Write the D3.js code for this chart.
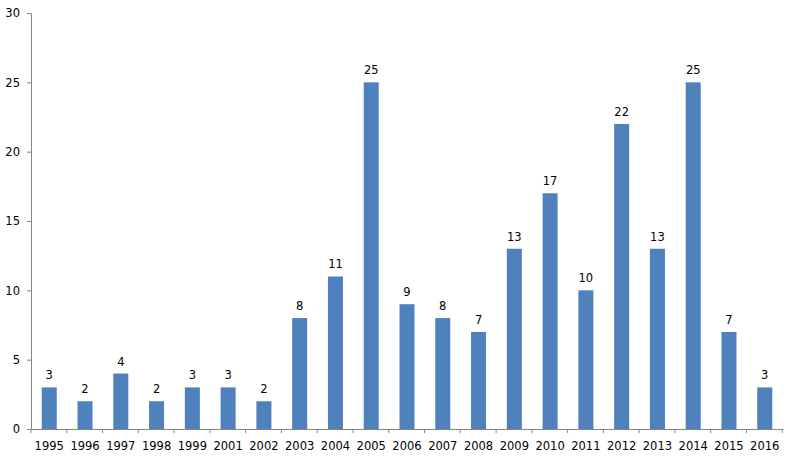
<!DOCTYPE html>
<html><head><meta charset="utf-8">
<script src="https://cdn.jsdelivr.net/npm/d3@7"></script>
<style>body{margin:0;background:#fff}svg{display:block}</style>
</head><body>
<script>
const categories = ["1995","1996","1997","1998","1999","2001","2002","2003","2004","2005","2006","2007","2008","2009","2010","2011","2012","2013","2014","2015","2016"];
const values = [3,2,4,2,3,3,2,8,11,25,9,8,7,13,17,10,22,13,25,7,3];
const yTicks = [0,5,10,15,20,25,30];

const W = 793, H = 462;
const m = {left: 31, right: 10, top: 13, bottom: 33};
const svg = d3.select("body").append("svg").attr("width", W).attr("height", H);
const x = d3.scaleBand().domain(categories).range([m.left, 783]).paddingInner(0.58).paddingOuter(0.3);
const y = d3.scaleLinear().domain([0, 30]).range([429, m.top]);
const font = "DejaVu Sans, Verdana, sans-serif";
const fs = 11.5;

const ya = svg.append("g").attr("transform", `translate(${m.left},0)`)
  .call(d3.axisLeft(y).tickValues(yTicks).tickSize(4).tickPadding(7));
ya.select(".domain").attr("stroke", "#868686");
ya.selectAll(".tick line").attr("stroke", "#868686");
ya.selectAll("text").attr("font-family", font).attr("font-size", fs).attr("fill", "#000");

svg.selectAll("rect.bar").data(values).join("rect").attr("class","bar")
  .attr("x", (d,i) => x(categories[i])).attr("width", x.bandwidth())
  .attr("y", d => y(d)).attr("height", d => y(0) - y(d)).attr("fill", "#4F81BD");

svg.selectAll("text.val").data(values).join("text").attr("class","val")
  .attr("x", (d,i) => x(categories[i]) + x.bandwidth()/2).attr("y", d => y(d) - 8)
  .attr("text-anchor","middle").attr("font-family", font).attr("font-size", fs).attr("fill","#000")
  .text(d => d);

const xa = svg.append("g").attr("transform", `translate(0,${y(0)})`)
  .call(d3.axisBottom(x).tickSize(0).tickPadding(13));
xa.select(".domain").attr("stroke", "#868686");
xa.selectAll("text").attr("font-family", font).attr("font-size", fs).attr("fill", "#000");
// tick marks between categories
const step = x.step();
const bounds = d3.range(categories.length + 1).map(i => m.left + i * step);
xa.selectAll("line.sep").data(bounds).join("line").attr("class","sep")
  .attr("x1", d => d).attr("x2", d => d).attr("y1", 0).attr("y2", 4).attr("stroke", "#868686");
</script>
</body></html>
